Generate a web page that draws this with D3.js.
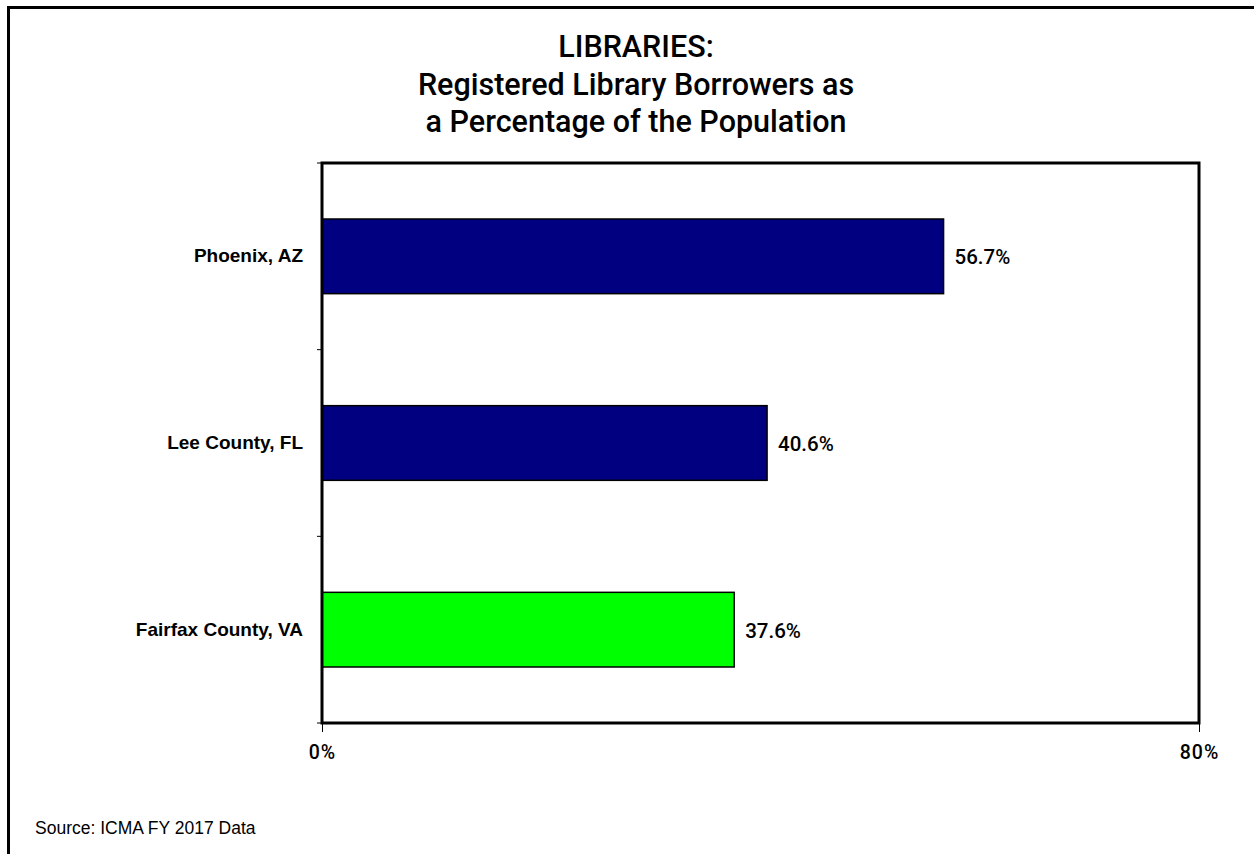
<!DOCTYPE html>
<html>
<head>
<meta charset="utf-8">
<script src="https://cdn.jsdelivr.net/npm/d3@7"></script>
<style>
  html, body { margin: 0; padding: 0; background: #fff; }
  svg { display: block; }
</style>
</head>
<body>
<script>
const categories = ["Phoenix, AZ", "Lee County, FL", "Fairfax County, VA"];
const values = [56.7, 40.6, 37.6];
const barColors = ["#000080", "#000080", "#00FF00"];
const xTicks = [0, 80];
const titleLines = ["LIBRARIES:", "Registered Library Borrowers as", "a Percentage of the Population"];
const sourceText = "Source: ICMA FY 2017 Data";

const W = 1254, H = 854;
const svg = d3.select("body").append("svg").attr("width", W).attr("height", H);

// outer frame (top & left visible, extends off image)
svg.append("path")
  .attr("d", `M8.5,${H + 10} L8.5,7.5 L${W + 10},7.5`)
  .attr("fill", "none").attr("stroke", "#000").attr("stroke-width", 3);

const plot = { left: 322, top: 163, right: 1199, bottom: 723 };

const x = d3.scaleLinear().domain([0, 80]).range([plot.left, plot.right]);
const y = d3.scaleBand().domain(categories).range([plot.top, plot.bottom])
  .paddingInner(0.6).paddingOuter(0.3);

// title
const title = svg.append("text")
  .attr("text-anchor", "middle")
  .attr("font-family", "Roboto, 'Liberation Sans', sans-serif")
  .attr("font-weight", 500)
  .attr("font-size", 30.5)
  .attr("fill", "#000");
const titleBaselines = [57, 95, 132];
titleLines.forEach((t, i) => {
  title.append("tspan").attr("x", 636).attr("y", titleBaselines[i]).text(t);
});

// bars
svg.selectAll("rect.bar").data(categories).enter().append("rect")
  .attr("class", "bar")
  .attr("x", x(0))
  .attr("y", d => y(d))
  .attr("width", (d, i) => x(values[i]) - x(0))
  .attr("height", y.bandwidth())
  .attr("fill", (d, i) => barColors[i])
  .attr("stroke", "#000").attr("stroke-width", 1.5);

// value labels
svg.selectAll("text.val").data(categories).enter().append("text")
  .attr("class", "val")
  .attr("x", (d, i) => x(values[i]) + 11)
  .attr("y", d => y(d) + y.bandwidth() / 2 + 8)
  .attr("font-family", "Roboto, 'Liberation Sans', sans-serif")
  .attr("font-weight", 500)
  .attr("font-size", 20.5)
  .text((d, i) => values[i].toFixed(1) + "%");

// plot frame
svg.append("rect")
  .attr("x", plot.left).attr("y", plot.top)
  .attr("width", plot.right - plot.left).attr("height", plot.bottom - plot.top)
  .attr("fill", "none").attr("stroke", "#000").attr("stroke-width", 3);

// y-axis labels
const yAxis = d3.axisLeft(y).tickSize(0).tickPadding(19);
const gy = svg.append("g").attr("transform", `translate(${plot.left},0)`).call(yAxis);
gy.select(".domain").remove();
gy.selectAll("text")
  .attr("font-family", "'Liberation Sans', Arial, sans-serif")
  .attr("font-weight", "bold")
  .attr("font-size", 19)
  .attr("fill", "#000");
// y-axis ticks at category boundaries
const step = (plot.bottom - plot.top) / categories.length;
d3.range(categories.length + 1).forEach(i => {
  const yy = plot.top + i * step;
  svg.append("line").attr("x1", plot.left - 5).attr("x2", plot.left)
    .attr("y1", yy).attr("y2", yy).attr("stroke", "#000").attr("stroke-width", 1);
});

// x-axis
const xAxis = d3.axisBottom(x).tickValues(xTicks).tickSize(9).tickPadding(13)
  .tickFormat(d => d + "%");
const gx = svg.append("g").attr("transform", `translate(0,${plot.bottom})`).call(xAxis);
gx.select(".domain").remove();
gx.selectAll("line").attr("stroke", "#000").attr("stroke-width", 1);
gx.selectAll("text")
  .attr("font-family", "Roboto, 'Liberation Sans', sans-serif")
  .attr("font-weight", 500)
  .attr("font-size", 19.5)
  .attr("letter-spacing", 1)
  .attr("fill", "#000");

// source
svg.append("text")
  .attr("x", 35).attr("y", 834)
  .attr("font-family", "'Liberation Sans', Arial, sans-serif")
  .attr("font-size", 17.5)
  .text(sourceText);
</script>
</body>
</html>
